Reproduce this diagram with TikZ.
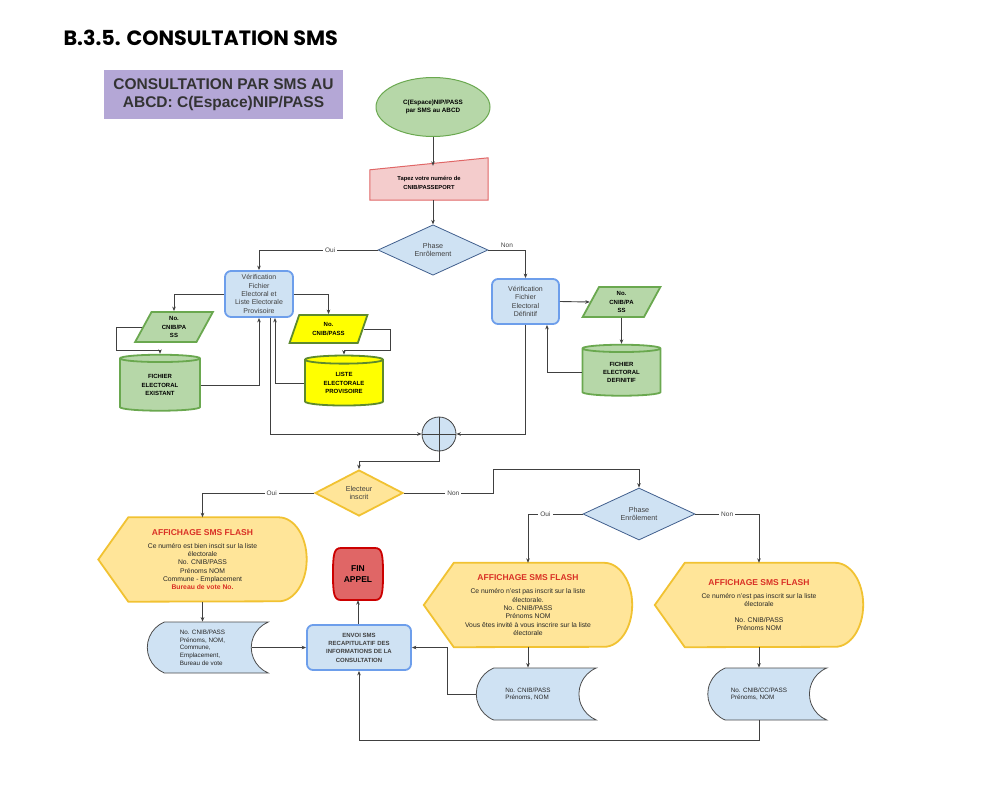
\documentclass[tikz,border=0pt]{standalone}
\usepackage{fontspec}
\setmainfont{Liberation Sans}
\newfontfamily\titrefont{Poppins}
\usetikzlibrary{shapes.geometric,shapes.misc,arrows.meta,backgrounds}
\definecolor{lavande}{HTML}{B4A7D6}
\definecolor{vertclair}{HTML}{B6D7A8}
\definecolor{vertfonce}{HTML}{6AA84F}
\definecolor{rose}{HTML}{F4CCCC}
\definecolor{rosebord}{HTML}{E06666}
\definecolor{bleuclair}{HTML}{CFE2F3}
\definecolor{bleubord}{HTML}{6D9EEB}
\definecolor{jaune}{HTML}{FFFF00}
\definecolor{jaunebord}{HTML}{5E8A2E}
\definecolor{ambre}{HTML}{FFE599}
\definecolor{ambrebord}{HTML}{F1C232}
\definecolor{rougefin}{HTML}{E06666}
\definecolor{rougebord}{HTML}{CC0000}
\definecolor{rougetxt}{HTML}{D93025}
\definecolor{gristrait}{HTML}{404040}
\begin{document}
\begin{tikzpicture}[x=1pt,y=1pt,
	trait/.style={draw=gristrait,line width=0.9pt},
	fleche/.style={trait,-{Stealth[length=4.5pt,width=3.6pt]}},
	lbl/.style={fill=white,inner sep=2pt,font=\fontsize{6.5}{7}\selectfont,text=black!75},
	boite/.style={rectangle,rounded corners=6pt,draw=bleubord,fill=bleuclair,line width=1.8pt,align=center,inner sep=0pt,font=\fontsize{7}{8.3}\selectfont,text=black!75},
	para/.style={trapezium,trapezium left angle=67,trapezium right angle=113,trapezium stretches=true,minimum width=78,minimum height=30,inner sep=0pt,line width=1.8pt,align=center,font=\bfseries\fontsize{6}{8.3}\selectfont},
	cyl/.style={cylinder,shape border rotate=90,aspect=0.2,minimum width=78,minimum height=52,line width=1.8pt,align=center,inner sep=0pt,font=\bfseries\fontsize{6}{8.3}\selectfont},
	losange/.style={diamond,inner sep=0pt,align=center,font=\fontsize{7.2}{8.3}\selectfont,text=black!75},
	aff/.style={minimum width=208,minimum height=84,inner sep=0pt,align=center,font=\fontsize{6.8}{8.3}\selectfont,text=black!85},
	stock/.style={rounded rectangle,rounded rectangle east arc=concave,rounded rectangle arc length=135,minimum width=120,minimum height=52,draw=black!70,fill=bleuclair,line width=0.8pt,align=left,inner sep=0pt,font=\fontsize{6.3}{7.7}\selectfont,text=black!85},
	ecranstyle/.style={draw=ambrebord,fill=ambre,line width=1.8pt},
	]
	\def\flash{{\color{rougetxt}\bfseries\fontsize{8.5}{10}\selectfont AFFICHAGE SMS FLASH}}
	\def\ecran(#1){\draw[ecranstyle] (#1.west) -- ([xshift=30]#1.north west) -- ([xshift=-28]#1.north east) arc[start angle=90,end angle=-90,x radius=28,y radius=42] -- ([xshift=30]#1.south west) -- cycle;}
	\useasboundingbox (0,0) rectangle (1005,-788);
	% titres
	\node[anchor=base west,font=\titrefont\bfseries\fontsize{20.7}{22}\selectfont] (titre) at (60,-45) {B.3.5. CONSULTATION SMS};
	\node[fill=lavande,minimum width=239,minimum height=49,align=center,text=black!80,font=\bfseries\fontsize{15.5}{18}\selectfont] (bandeau) at (223.5,-94.5) {CONSULTATION PAR SMS AU\\ABCD: C(Espace)NIP/PASS};
	% partie haute
	\node[ellipse,draw=vertfonce,fill=vertclair,line width=1pt,minimum width=114,minimum height=59,align=center,font=\bfseries\fontsize{6.3}{8.5}\selectfont] (debut) at (433,-107) {C(Espace)NIP/PASS\\par SMS au ABCD};
	\node[minimum width=118,minimum height=34,inner sep=0pt,align=center,font=\bfseries\fontsize{5.8}{9}\selectfont] (saisie) at (429,-183) {Tapez votre numéro de\\CNIB/PASSEPORT};
	\node[losange,draw=bleubord!60!black,fill=bleuclair,line width=0.8pt,minimum width=110,minimum height=50] (phase1) at (433,-250) {Phase\\Enrôlement};
	\node[boite,minimum width=68,minimum height=46] (verif1) at (259,-294) {Vérification\\Fichier\\Electoral et\\Liste Electorale\\Provisoire};
	\node[boite,minimum width=67,minimum height=45] (verif2) at (525.5,-301.5) {Vérification\\Fichier\\Electoral\\Définitif};
	\node[para,draw=vertfonce,fill=vertclair] (para1) at (174,-327) {No.\\CNIB/PA\\SS};
	\node[para,draw=jaunebord,fill=jaune,minimum height=28] (para2) at (328.5,-329) {No.\\CNIB/PASS};
	\node[para,draw=vertfonce,fill=vertclair] (para3) at (621.5,-302) {No.\\CNIB/PA\\SS};
	\node[cyl,draw=vertfonce,fill=vertclair,minimum width=80,minimum height=56] (cyl1) at (160,-385) {FICHIER\\ELECTORAL\\EXISTANT};
	\node[cyl,draw=jaunebord,fill=jaune,minimum height=50] (cyl2) at (344,-383) {LISTE\\ELECTORALE\\PROVISOIRE};
	\node[cyl,draw=vertfonce,fill=vertclair,minimum height=51] (cyl3) at (621.5,-372.5) {FICHIER\\ELECTORAL\\DEFINITIF};
	\node[circle,draw=black!75,fill=bleuclair,line width=0.8pt,minimum size=34,inner sep=0pt,
		path picture={\draw[black!75,line width=0.8pt] (path picture bounding box.north) -- (path picture bounding box.south) (path picture bounding box.west) -- (path picture bounding box.east);}] (jonction) at (439,-434) {};
	% partie basse
	\node[losange,draw=ambrebord,fill=ambre,line width=1.8pt,minimum width=88,minimum height=46] (electeur) at (359,-493) {Electeur\\inscrit};
	\node[losange,draw=bleubord!60!black,fill=bleuclair,line width=0.8pt,minimum width=112,minimum height=52] (phase2) at (639,-514) {Phase\\Enrôlement};
	\node[aff] (aff1) at (202.5,-559.5) {\flash\\[5pt]Ce numéro est bien inscit sur la liste\\électorale\\No. CNIB/PASS\\Prénoms NOM\\Commune - Emplacement\\{\color{rougetxt}\bfseries Bureau de vote No.}};
	\node[aff] (aff2) at (528,-605) {\flash\\[5pt]Ce numéro n'est pas inscrit sur la liste\\électorale.\\No. CNIB/PASS\\Prénoms NOM\\Vous êtes invité à vous inscrire sur la liste\\électorale};
	\node[aff] (aff3) at (759,-605) {\flash\\[5pt]Ce numéro n'est pas inscrit sur la liste\\électorale\\[7pt]No. CNIB/PASS\\Prénoms NOM};
	\node[stock,minimum width=121,minimum height=51] (stock1) at (202.5,-647.5) {No. CNIB/PASS\\Prénoms, NOM,\\Commune,\\Emplacement,\\Bureau de vote};
	\node[stock] (stock2) at (528,-694) {No. CNIB/PASS\\Prénoms, NOM};
	\node[stock,minimum width=119] (stock3) at (759,-694) {No. CNIB/CC/PASS\\Prénoms, NOM};
	\node[boite,minimum width=104,minimum height=45,font=\bfseries\fontsize{6}{8.3}\selectfont] (envoi) at (359,-647.5) {ENVOI SMS\\RECAPITULATIF DES\\INFORMATIONS DE LA\\CONSULTATION};
	\node[minimum width=50,minimum height=52,inner sep=0pt,align=center,font=\bfseries\fontsize{8.5}{10.7}\selectfont] (fin) at (358,-574) {FIN\\APPEL};
	% formes dessinees a la main
	\begin{scope}[on background layer]
		\draw[draw=rosebord,fill=rose,line width=1pt] (saisie.south west) -- ([yshift=-4]saisie.north west) -- ([yshift=8]saisie.north east) -- (saisie.south east) -- cycle;
		\ecran(aff1) \ecran(aff2) \ecran(aff3)
		\draw[draw=rougebord,fill=rougefin,line width=1.8pt,shift={(fin.center)}] (-17,26) -- (17,26) .. controls (24,26) and (25,20) .. (25,0) .. controls (25,-20) and (24,-26) .. (17,-26) -- (-17,-26) .. controls (-24,-26) and (-25,-20) .. (-25,0) .. controls (-25,20) and (-24,26) .. (-17,26) -- cycle;
	\end{scope}
	% liaisons
	\draw[fleche] (debut.south) -- (debut.south |- saisie.north);
	\draw[fleche] (saisie.south -| phase1.north) -- (phase1.north);
	\draw[fleche] (phase1.west) -| node[lbl,pos=0.2]{Oui} (verif1.north);
	\draw[fleche] (phase1.east) -| node[lbl,pos=0.25,above,fill=none]{Non} (verif2.north);
	\draw[fleche] (verif1.west) -| (para1.north);
	\draw[fleche] (para1.west) -- ++(-26,0) -- ++(0,-23) -| (cyl1.north);
	\draw[fleche] (cyl1.east) -| (verif1.south);
	\draw[fleche] (verif1.east) -| (para2.north);
	\draw[fleche] (para2.east) -- ++(27,0) -- ++(0,-21) -| (cyl2.north);
	\draw[fleche] (cyl2.west) -| ([xshift=16]verif1.south);
	\draw[fleche] ([xshift=11]verif1.south) |- (jonction.west);
	\draw[fleche] (verif2.south) |- (jonction.east);
	\draw[fleche] (verif2.east) -- (para3.west);
	\draw[fleche] (para3.south) -- (cyl3.north);
	\draw[fleche] (cyl3.west) -| ([xshift=21.5]verif2.south);
	\draw[fleche] (jonction.south) -- ++(0,-10) -| (electeur.north);
	\draw[fleche] (electeur.west) -| node[lbl,pos=0.19]{Oui} (aff1.north);
	\draw[fleche] (electeur.east) -- node[lbl,pos=0.55]{Non} ++(90,0) -- ++(0,24) -| (phase2.north);
	\draw[fleche] (phase2.west) -| node[lbl,pos=0.34]{Oui} (aff2.north);
	\draw[fleche] (phase2.east) -| node[lbl,pos=0.25]{Non} (aff3.north);
	\draw[fleche] (aff1.south) -- (stock1.north);
	\draw[fleche] (aff2.south) -- (stock2.north);
	\draw[fleche] (aff3.south) -- (stock3.north);
	\draw[fleche] ([xshift=-18]stock1.east) -- (envoi.west);
	\draw[fleche] (stock2.west) -- ++(-28,0) |- (envoi.east);
	\draw[fleche] (stock3.south) -- ++(0,-20) -| (envoi.south);
	\draw[fleche] (envoi.north -| fin.south) -- (fin.south);
\end{tikzpicture}
\end{document}
